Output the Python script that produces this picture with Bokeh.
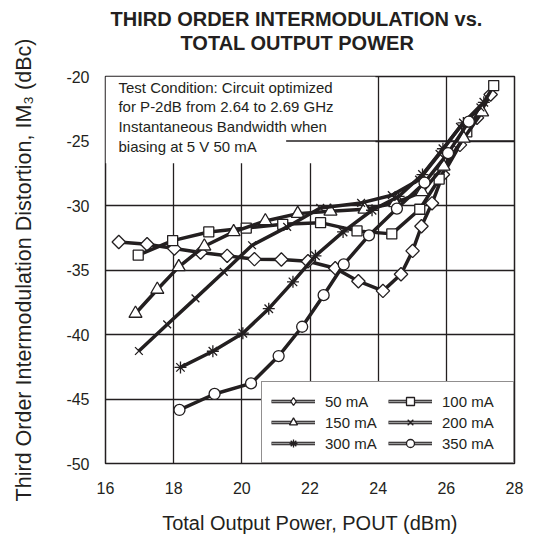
from bokeh.plotting import figure
from bokeh.models import Range1d, Legend, LegendItem, Label, FixedTicker, Title, ColumnDataSource
from bokeh.embed import file_html
from bokeh.resources import INLINE
import math

# ---- data ----
x_50 = [16.39, 17.22, 18.02, 18.79, 19.57, 20.37, 21.16, 21.94, 22.74, 23.42, 24.14, 24.67, 25.01, 25.27, 25.58, 25.9, 26.4, 26.9, 27.3]
y_50 = [-32.83, -33.0, -33.34, -33.65, -33.9, -34.16, -34.19, -34.32, -34.86, -35.87, -36.62, -35.33, -33.52, -31.61, -29.83, -27.6, -25.3, -23.2, -21.4]

x_100 = [16.96, 17.97, 19.03, 20.13, 21.2, 22.31, 23.38, 24.4, 25.22, 25.79, 26.6, 27.39]
y_100 = [-33.85, -32.72, -32.05, -31.75, -31.46, -31.33, -31.97, -32.2, -30.29, -27.95, -24.3, -20.7]

x_150 = [16.88, 17.52, 18.15, 18.9, 19.76, 20.69, 21.64, 22.6, 23.6, 24.5, 25.29, 25.92, 26.51, 27.05]
y_150 = [-38.37, -36.51, -34.76, -33.16, -32.05, -31.2, -30.63, -30.45, -30.3, -29.8, -28.95, -26.97, -24.8, -22.76]

x_200 = [16.98, 17.81, 18.64, 19.47, 20.3, 21.33, 22.3, 23.5, 24.4, 25.2, 25.8, 26.4, 27.0]
y_200 = [-41.28, -39.22, -37.2, -35.15, -33.08, -31.66, -30.19, -29.8, -29.2, -28.0, -26.0, -23.9, -22.4]

x_300 = [18.2, 19.15, 20.03, 20.79, 21.5, 22.16, 22.97, 23.82, 24.6, 25.3, 25.9, 26.5, 27.1]
y_300 = [-42.55, -41.3, -39.9, -38.0, -35.92, -33.9, -32.05, -30.37, -29.3, -27.6, -25.6, -23.6, -22.0]

x_350 = [18.17, 19.2, 20.27, 21.08, 21.77, 22.4, 22.99, 23.73, 24.55, 25.36, 26.05, 26.66]
y_350 = [-45.85, -44.61, -43.79, -41.67, -39.4, -36.95, -34.57, -32.32, -30.24, -28.23, -25.94, -23.5]

x_ticks = [16, 18, 20, 22, 24, 26, 28]
y_ticks = [-50, -45, -40, -35, -30, -25, -20]

labels = ["50 mA", "100 mA", "150 mA", "200 mA", "300 mA", "350 mA"]
title_lines = ["THIRD ORDER INTERMODULATION vs.", "TOTAL OUTPUT POWER"]
note_lines = ["Test Condition: Circuit optimized",
              "for P-2dB from 2.64 to 2.69 GHz",
              "Instantaneous Bandwidth when",
              "biasing at 5 V 50 mA"]

INK = "#231f20"
FONT = "Liberation Sans"

p = figure(frame_width=409, frame_height=387,
           x_range=Range1d(16, 28), y_range=Range1d(-50, -20),
           output_backend="svg", toolbar_location=None,
           min_border_left=105, min_border_right=15, min_border_top=76, min_border_bottom=75,
           background_fill_color="white", border_fill_color="white")
p.title = None
# a range that places its renderers outside the frame: used for legend-only samples
p.extra_x_ranges = {"legend_only": Range1d(1000, 1012)}

# title: spacer (closest to frame), second line, first line
p.add_layout(Title(text=" ", text_font_size="2px", standoff=18.6), "above")
p.add_layout(Title(text=title_lines[1], align="left", offset=75, standoff=0, text_font=FONT,
                   text_font_size="20px", text_font_style="bold", text_color=INK), "above")
p.add_layout(Title(text=title_lines[0], align="left", offset=5, standoff=0, text_font=FONT,
                   text_font_size="20px", text_font_style="bold", text_color=INK), "above")

p.outline_line_color = INK
p.outline_line_width = 1.5
p.outline_line_alpha = 1.0

for ax in (p.xaxis, p.yaxis):
    ax.axis_line_color = None
    ax.major_tick_in = 0
    ax.major_tick_out = 0
    ax.minor_tick_line_color = None
    ax.major_label_text_font = FONT
    ax.major_label_text_font_size = "16px"
    ax.major_label_text_color = INK
    ax.axis_label_text_font = FONT
    ax.axis_label_text_font_style = "normal"
    ax.axis_label_text_color = INK

p.xaxis.axis_label_text_font_size = "20px"
p.yaxis.axis_label_text_font_size = "21.5px"
p.xaxis.ticker = FixedTicker(ticks=x_ticks)
p.yaxis.ticker = FixedTicker(ticks=y_ticks)
p.xaxis.major_label_overrides = {t: str(t) for t in x_ticks}
p.yaxis.major_label_overrides = {t: str(t) for t in y_ticks}
p.xaxis.major_label_standoff = 18
p.yaxis.major_label_standoff = 16
p.xaxis.axis_label = "Total Output Power, POUT (dBm)"
p.yaxis.axis_label = "Third Order Intermodulation Distortion, IM\u2083 (dBc)"
p.xaxis.axis_label_standoff = 15
p.yaxis.axis_label_standoff = 27

p.xgrid.ticker = FixedTicker(ticks=x_ticks[1:-1])
p.ygrid.ticker = FixedTicker(ticks=y_ticks[1:-1])
for g in (p.xgrid, p.ygrid):
    g.grid_line_color = INK
    g.grid_line_width = 1.3

# white background of the test-condition note
p.quad(left=[16], right=[23.92], bottom=[-26.73], top=[-20], fill_color="white", line_color=None)
p.segment(x0=[21.3], y0=[-25], x1=[28], y1=[-25], line_color=INK, line_width=1.3)

LW = 3.5
series = [
    (x_50, y_50, dict(marker="square", angle=math.pi / 4, size=9.5)),
    (x_100, y_100, dict(marker="square", size=10)),
    (x_150, y_150, dict(marker="triangle", size=13)),
    (x_200, y_200, dict(marker="x", size=11)),
    (x_300, y_300, dict(marker="asterisk", size=12)),
    (x_350, y_350, dict(marker="circle", size=11)),
]

items = []
for k, ((xs, ys, mk), lab) in enumerate(zip(series, labels)):
    src = ColumnDataSource(dict(x=xs, y=ys))
    lr = p.line("x", "y", source=src, line_color=INK, line_width=LW, line_join="round")
    sr = p.scatter("x", "y", source=src, fill_color="white", line_color=INK, line_width=1.3, **mk)
    # legend-only renderers (mapped outside the frame): grey line core, legend marker
    gr = p.line("x", "y", source=src, x_range_name="legend_only", line_color="#9a9a9a", line_width=1.4)
    if k == 0:
        mr = p.scatter("x", "y", source=src, x_range_name="legend_only", marker="diamond", size=15,
                       fill_color="white", line_color=INK, line_width=1.3)
    else:
        mr = sr
    items.append(LegendItem(label=lab, renderers=[lr, gr, mr]))

# legend fills column by column: reorder so rows read 50/100, 150/200, 300/350
order = [0, 2, 4, 1, 3, 5]
leg = Legend(items=[items[i] for i in order], ncols=2, location="bottom_right", margin=0, padding=9, spacing=1,
             glyph_width=44, glyph_height=20, label_width=62, label_standoff=10,
             label_text_font=FONT, label_text_font_size="15px", label_text_color=INK,
             border_line_color=INK, border_line_width=1.5, background_fill_color="white",
             background_fill_alpha=1.0)
p.add_layout(leg, "center")

for i, line in enumerate(note_lines):
    p.add_layout(Label(x=16.38, y=-20.83 - 1.53 * i, text=line, text_baseline="middle",
                       text_font=FONT, text_font_size="15px", text_color=INK))

open("out.html", "w").write(file_html(p, INLINE))
